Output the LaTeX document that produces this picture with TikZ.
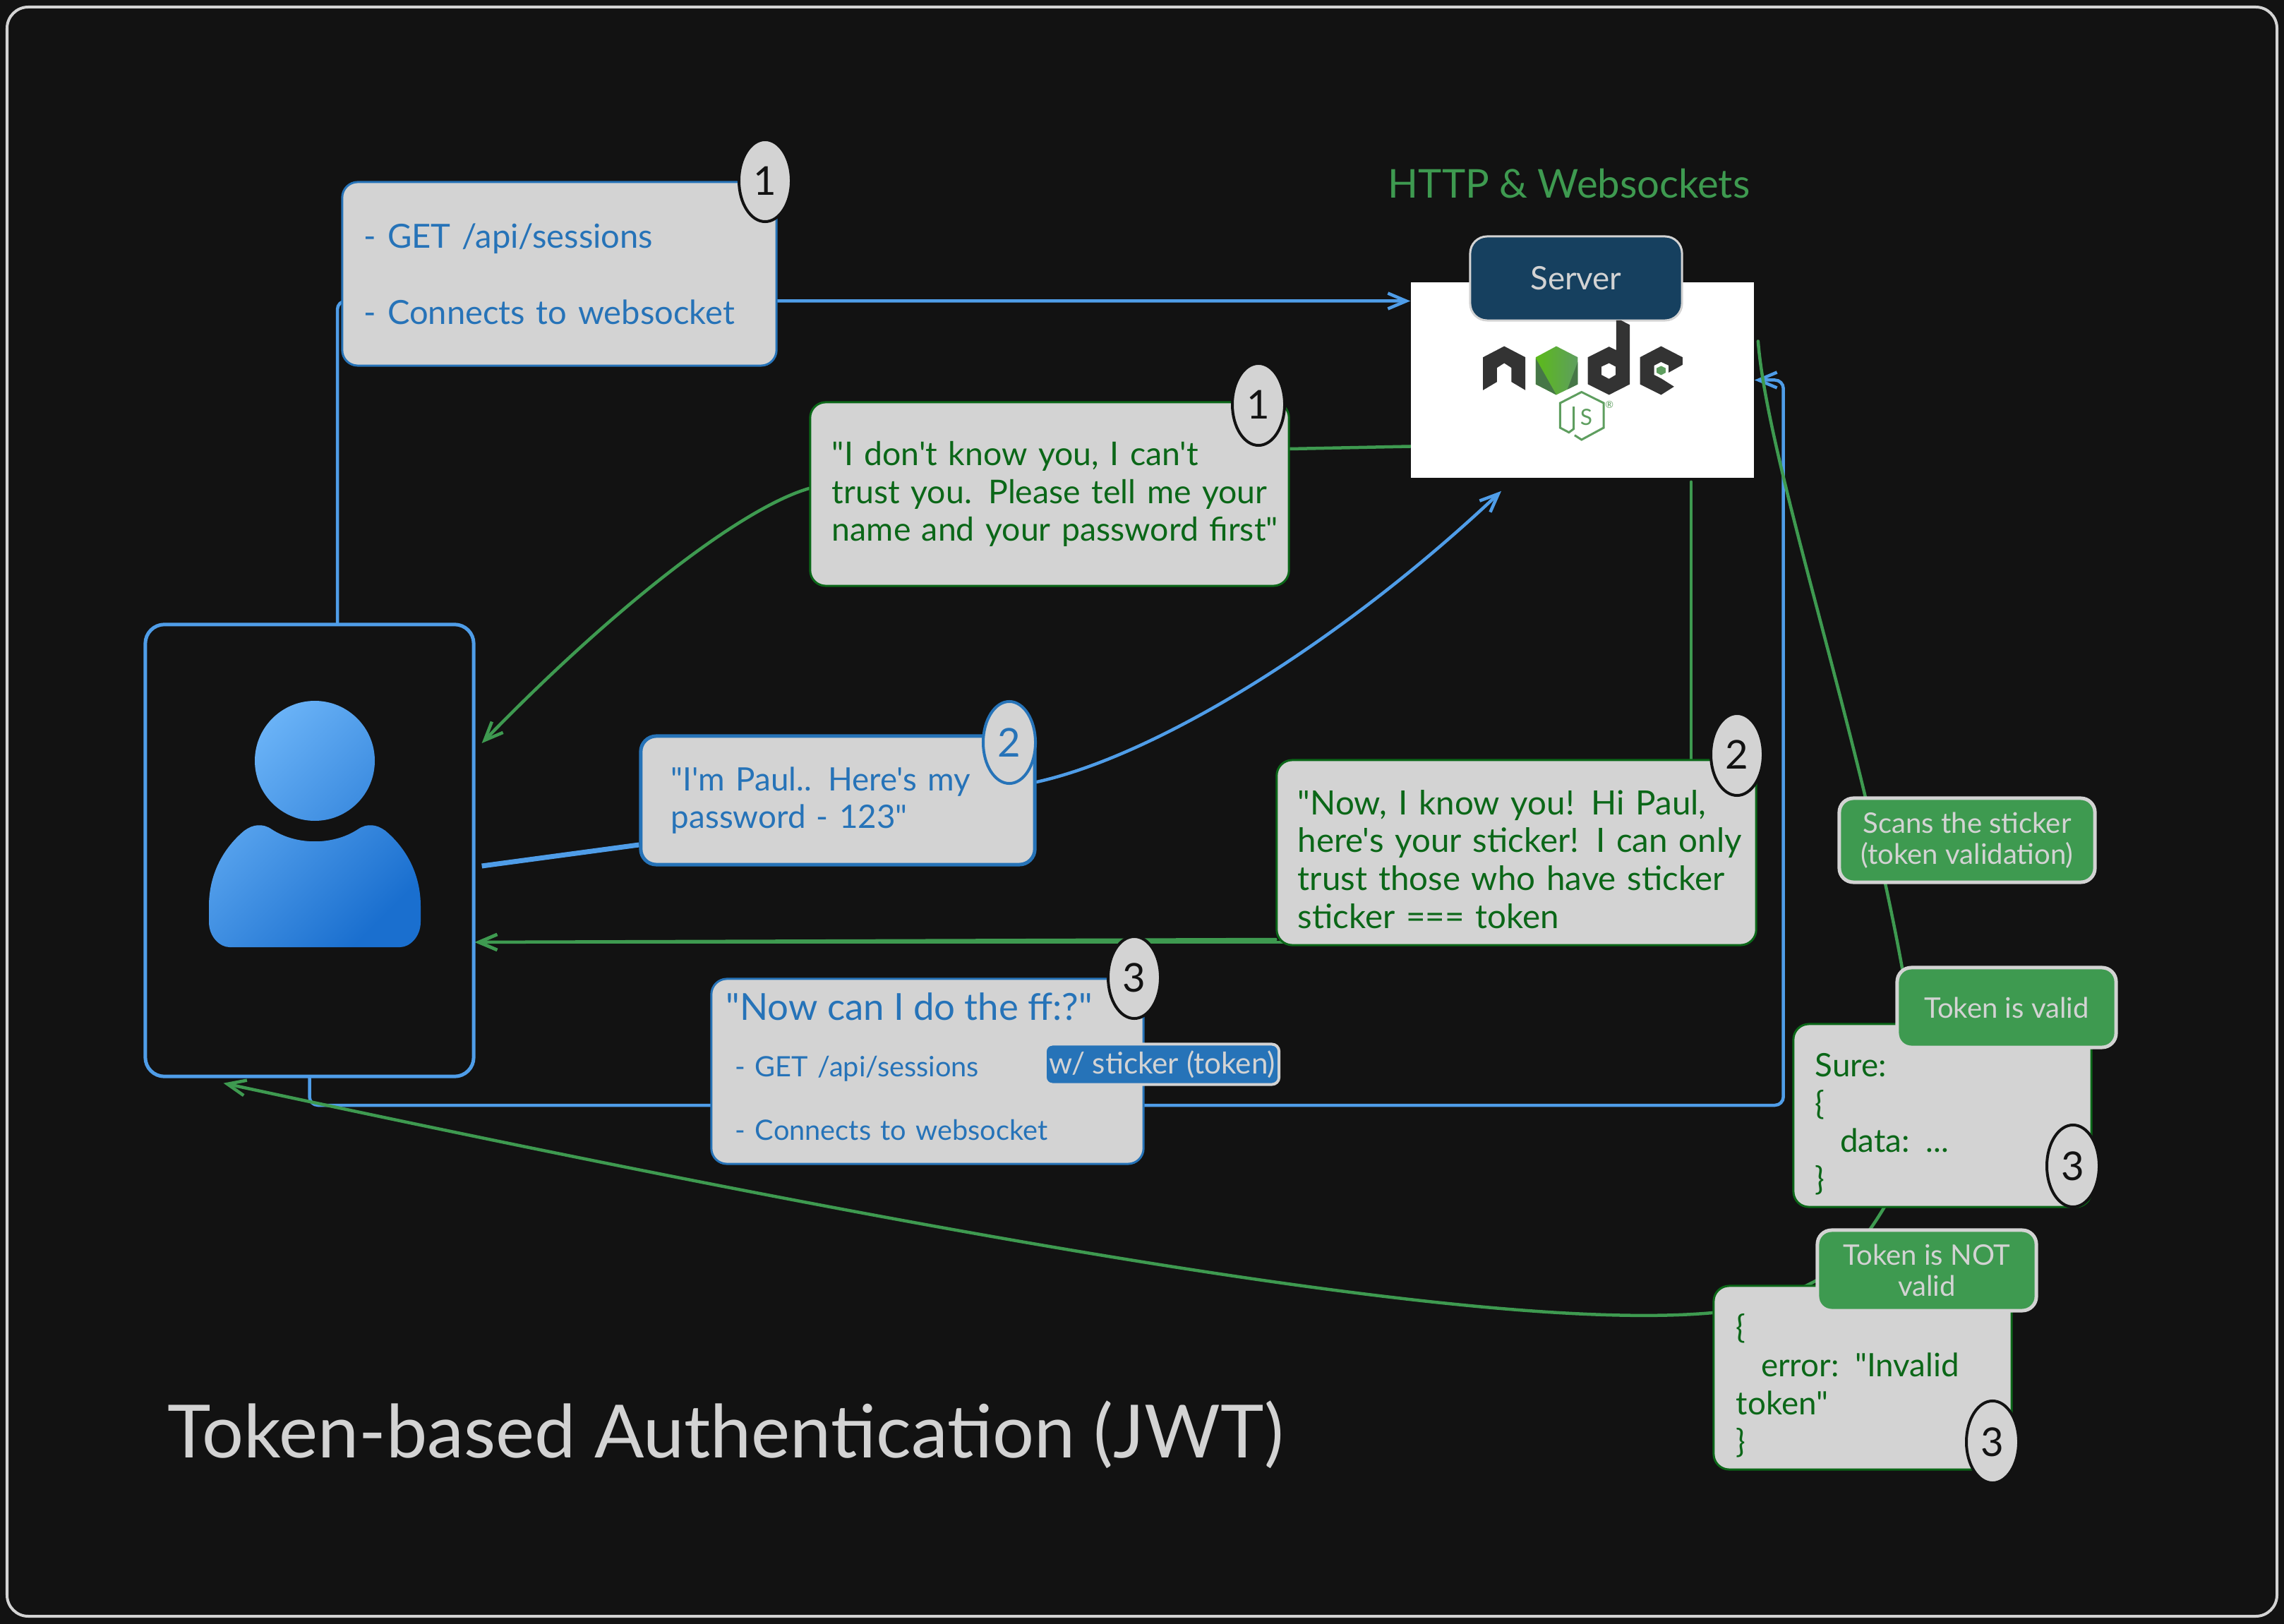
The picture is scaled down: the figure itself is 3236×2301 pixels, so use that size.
\documentclass[tikz,border=0pt]{standalone}
\usepackage{fontspec}
\setmainfont{Lato}[Ligatures=TeXOff]
\usepackage{xcolor}
\usetikzlibrary{arrows.meta, shapes.geometric, calc, backgrounds}

\definecolor{pagebg}{HTML}{121212}
\definecolor{boxgray}{HTML}{D3D3D3}
\definecolor{linkblue}{HTML}{4F9DE8}
\definecolor{textblue}{HTML}{2673B8}
\definecolor{linkgreen}{HTML}{3E9A50}
\definecolor{textgreen}{HTML}{0B6718}
\definecolor{servernavy}{HTML}{16405F}
\definecolor{logodark}{HTML}{333333}
\definecolor{logogreen}{HTML}{5E9E5F}
\definecolor{personlight}{HTML}{6DB5F8}
\definecolor{persondark}{HTML}{1A6FCF}

\begin{document}
\begin{tikzpicture}[
    x=0.01cm, y=-0.01cm,
    bubble/.style={rounded corners=.22cm, fill=boxgray, align=left, inner ysep=0pt, line width=.03cm, font=\fontsize{13}{15.3}\selectfont},
    bluebox/.style={bubble, draw=textblue, text=textblue},
    greenbox/.style={bubble, draw=textgreen, text=textgreen},
    badge/.style={rounded corners=.2cm, fill=linkgreen, draw=boxgray, line width=.05cm, text=boxgray, align=center, inner sep=0pt, font=\fontsize{11.4}{12.5}\selectfont},
    number/.style={ellipse, fill=boxgray, draw=pagebg, line width=.04cm, minimum width=.74cm, minimum height=1.16cm, inner sep=0pt, text=pagebg, font=\fontsize{16}{18}\selectfont},
    link/.style={line width=.045cm, line cap=round},
    arrow/.style={link, -{Straight Barb[length=2.6mm,width=2.2mm]}},
    bluelink/.style={draw=linkblue, rounded corners=.12cm},
    greenlink/.style={draw=linkgreen},
]
% the person
\node[draw=linkblue, rounded corners=.27cm, line width=.05cm, fill=pagebg, minimum width=4.65cm, minimum height=6.4cm] (client) at (438.5,1205) {};
\shade[top color=personlight, bottom color=persondark, shading angle=45]
    (446,1078) circle [radius=85]
    (296,1306) -- (296,1284) .. controls (296,1240) and (315,1203) .. (346,1177) .. controls (358,1168) and (372,1166) .. (385,1175)
    .. controls (420,1198) and (472,1198) .. (507,1175) .. controls (520,1166) and (534,1168) .. (546,1177)
    .. controls (577,1203) and (596,1240) .. (596,1284) -- (596,1306) .. controls (596,1328) and (580,1342) .. (567,1342)
    -- (325,1342) .. controls (312,1342) and (296,1328) .. (296,1306) -- cycle;

% server and logo
\node[fill=white, minimum width=4.86cm, minimum height=2.77cm, inner sep=0pt] (server) at (2242,538.5) {};
\node[rounded corners=.24cm, fill=servernavy, draw=boxgray, line width=.03cm, text=boxgray, minimum width=3cm, minimum height=1.19cm, font=\fontsize{13}{15}\selectfont] (serverlabel) at (2233,394.5) {Server};
\node[text=linkgreen, font=\fontsize{16}{18}\selectfont] (protocols) at (2223,260) {HTTP \& Websockets};
\begin{scope}[shift={(1950,220)}, x=0.004464cm, y=-0.003333cm]
\fill[logodark] (338,860) -- (405,813) -- (472,860) -- (472,1000) -- (428,965) -- (428,905) -- (405,885) -- (382,905) -- (382,965) -- (338,1000) -- cycle;
\shade[left color=green!45!lime!70!black!90, right color=logogreen] (570,813) -- (638,860) -- (638,975) -- (570,1020) -- (505,975) -- (505,860) -- cycle;
\fill[logogreen!75!black] (505,865) -- (570,1020) -- (505,975) -- cycle;
\fill[logogreen!75!black] (638,880) -- (638,975) -- (605,997) -- cycle;
\fill[logodark, even odd rule] (760,703) -- (775,703) -- (803,722) -- (803,975) -- (737,1020) -- (670,975) -- (670,860) -- (737,815) -- (760,830) -- cycle
    (737,885) -- (758,900) -- (758,935) -- (737,952) -- (713,935) -- (713,900) -- cycle;
\fill[logodark] (902,813) -- (970,860) -- (970,892) -- (926,925) -- (926,895) -- (902,880) -- (880,895) -- (880,935) -- (902,950) -- (943,985) -- (902,1020) -- (835,975) -- (835,860) -- cycle;
\fill[logogreen] (902,897) -- (916,906) -- (916,926) -- (902,936) -- (888,926) -- (888,906) -- cycle;
\draw[logogreen, line width=.03cm] (625,1070) -- (625,1165) -- (610,1180) -- (582,1160) -- (582,1055) -- (650,1008) -- (720,1055) -- (720,1160) -- (650,1211) -- (628,1192);
\node[text=logogreen, font=\fontsize{9}{9}\selectfont, inner sep=0pt] (logos) at (665,1115) {S};
\node[text=logogreen, font=\fontsize{4}{4}\selectfont, inner sep=0pt] (logoreg) at (738,1062) {®};
\end{scope}

% message boxes
\node[bluebox, minimum width=6.15cm, minimum height=2.6cm, text width=5.53cm, inner xsep=.31cm, font=\fontsize{13.4}{15.3}\selectfont] (reqone) at (792.5,388) {- GET /api/sessions\\[15.4pt]- Connects to websocket};
\node[greenbox, minimum width=6.78cm, minimum height=2.6cm, text width=6.16cm, inner xsep=.31cm, font=\fontsize{13.2}{15.3}\selectfont] (trust) at (1487,700) {"I don't know you, I can't\\\mbox{trust you. Please tell me your}\\\mbox{name and your password first"}};
\node[bluebox, line width=.05cm, minimum width=5.58cm, minimum height=1.82cm, text width=4.72cm, inner xsep=.43cm] (iam) at (1187,1134) {"I'm Paul.. Here's my\\password - 123"};
\node[greenbox, minimum width=6.79cm, minimum height=2.62cm, text width=6.19cm, inner xsep=.3cm, font=\fontsize{13.5}{15.3}\selectfont] (sticker) at (2148.5,1208) {\rule{0pt}{15.3pt}"Now, I know you! Hi Paul,\\\mbox{here's your sticker! I can only}\\\mbox{trust those who have sticker}\\sticker === token};
\node[bluebox, minimum width=6.12cm, minimum height=2.62cm, text width=5.7cm, inner xsep=.21cm, font=\fontsize{11.3}{13}\selectfont] (reqtwo) at (1314,1518) {{\fontsize{15}{17}\selectfont "Now can I do the ff:?"}\\[10pt]\hspace*{3.7pt}- GET /api/sessions\\[12.5pt]\hspace*{3.7pt}- Connects to websocket\rule[-4pt]{0pt}{1pt}};
\node[rounded corners=.1cm, fill=textblue, draw=boxgray, line width=.04cm, text=boxgray, minimum width=3.31cm, minimum height=.57cm, inner sep=0pt, font=\fontsize{12}{13}\selectfont] (tokentag) at (1646.5,1508) {w/ sticker (token)};
\node[greenbox, minimum width=4.22cm, minimum height=2.59cm, text width=3.6cm, inner xsep=.31cm] (sure) at (2752,1580.5) {\rule{0pt}{16.4pt}Sure:\\\{\\\hspace*{10pt}data: ...\\\}};
\node[greenbox, minimum width=4.22cm, minimum height=2.6cm, text width=3.58cm, inner xsep=.32cm] (invalid) at (2639,1952) {\rule{0pt}{16.4pt}\{\\\hspace*{10pt}error: "Invalid\\token"\\\}};

% green badges
\node[badge, minimum width=3.62cm, minimum height=1.19cm] (scan) at (2787,1190.5) {Scans the sticker\\(token validation)};
\node[badge, minimum width=3.1cm, minimum height=1.13cm] (valid) at (2843,1427.5) {Token is valid};
\node[badge, minimum width=3.1cm, minimum height=1.14cm] (notvalid) at (2730,1800) {Token is NOT\\valid};

% step numbers
\node[number] (numreq) at (1084,256) {1};
\node[number] (numtrust) at (1783,573) {1};
\node[number, draw=textblue, text=textblue] (numiam) at (1430,1052) {2};
\node[number] (numsticker) at (2461,1069) {2};
\node[number] (numreqtwo) at (1607,1385) {3};
\node[number] (numsure) at (2937,1652) {3};
\node[number] (numinvalid) at (2823,2043) {3};

% title
\node[text=boxgray, font=\fontsize{29.6}{34}\selectfont] (title) at (1028,2033) {Token-based Authentication (JWT)};

\begin{pgfonlayer}{background}
\fill[pagebg] (0,0) rectangle (3236,2301);
\draw[boxgray, line width=.04cm, rounded corners=.3cm] (10,10) rectangle (3226,2290);
\useasboundingbox (0,0) rectangle (3236,2301);

% blue links
\draw[arrow, bluelink] ($(client.north)+(39.5,0)$) |- ($(server.west)+(0,-112)$);
\draw[link, bluelink, line width=.07cm, line cap=butt] ($(client.east)+(9,22)$) -- (iam.west |- 0,1197);
\draw[arrow, bluelink] (iam.east |- 0,1108) .. controls (1640,1070) and (1900,910) .. ($(server.south)+(-115,18)$);
\draw[arrow, bluelink] (client.south) |- (reqtwo.west |- 0,1566) -- ($(reqtwo.east |- 0,1566)+(905,0)$) |- (server.east);

% green links
\coordinate (stickertip) at ($(client.east)+(-1,130)$);
\draw[link, greenlink] ($(server.west)+(0,94)$) -- (trust.east |- 0,636);
\draw[arrow, greenlink] (trust.west |- 0,692) .. controls (1050,720) and (870,860) .. ($(client.east)+(9,-152)$);
\draw[arrow, greenlink] ($(server.south)+(154,5)$) |- (stickertip);
\draw[arrow, greenlink] (sticker.west |- 0,1331) -- (stickertip);
\draw[arrow, greenlink] ($(server.east)+(5,-55)$) .. controls (2505,660) and (2640,1050) .. (2700,1400)
    .. controls (2730,1560) and (2720,1650) .. (2670,1710)
    .. controls (2640,1760) and (2610,1795) .. (2574,1814)
    .. controls (2530,1838) and (2480,1852) .. (invalid.west |- 0,1860)
    .. controls (2150,1885) and (1500,1790) .. ($(client.south)+(-122,7)$);
\end{pgfonlayer}
\end{tikzpicture}
\end{document}
